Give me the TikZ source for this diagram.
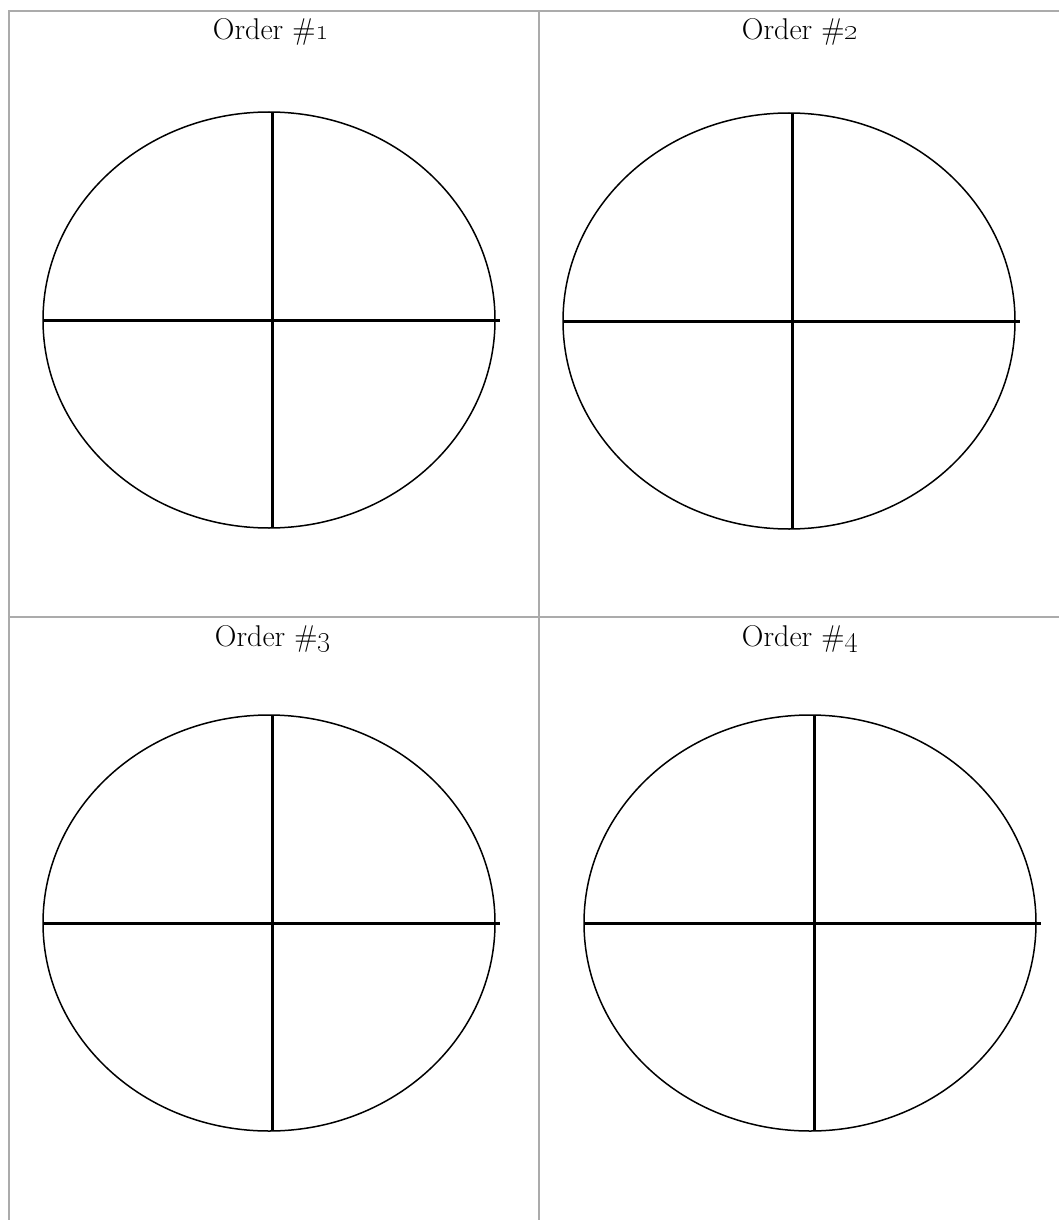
\documentclass[tikz,border=0pt]{standalone}
\begin{document}
\begin{tikzpicture}[x=1pt,y=-1pt,
  gridline/.style={draw=black!33,line width=2pt},
  rim/.style={draw=black,line width=1.5pt},
  crossline/.style={draw=black,line width=3pt},
  title/.style={font=\fontsize{30}{36}\selectfont,anchor=center,inner sep=0pt}]
\useasboundingbox (0,0) rectangle (1059,1220);
% table grid
\draw[gridline] (9,1220) -- (9,11) -- (1059,11);
\draw[gridline] (9,617) -- (1059,617);
\draw[gridline] (539,11) -- (539,1220);
% titles
\node[title] (t1) at (271,32) {Order \#\oldstylenums{1}};
\node[title] (t2) at (800,32) {Order \#\oldstylenums{2}};
\node[title] (t3) at (273,639) {Order \#\oldstylenums{3}};
\node[title] (t4) at (800,639) {Order \#\oldstylenums{4}};
% circles
\foreach \cx/\cy/\vx/\n in {269/320/272/1, 789/321/792/2, 269/923/272/3, 810/923/814/4}{
  \coordinate (c\n) at (\cx,\cy);
  \draw[rim] (c\n) ellipse [x radius=226, y radius=208];
  \draw[crossline] (\vx,\cy-208) -- (\vx,\cy+208);
  \draw[crossline] (\cx-226,\cy) -- (\cx+231,\cy);
}
\end{tikzpicture}
\end{document}
